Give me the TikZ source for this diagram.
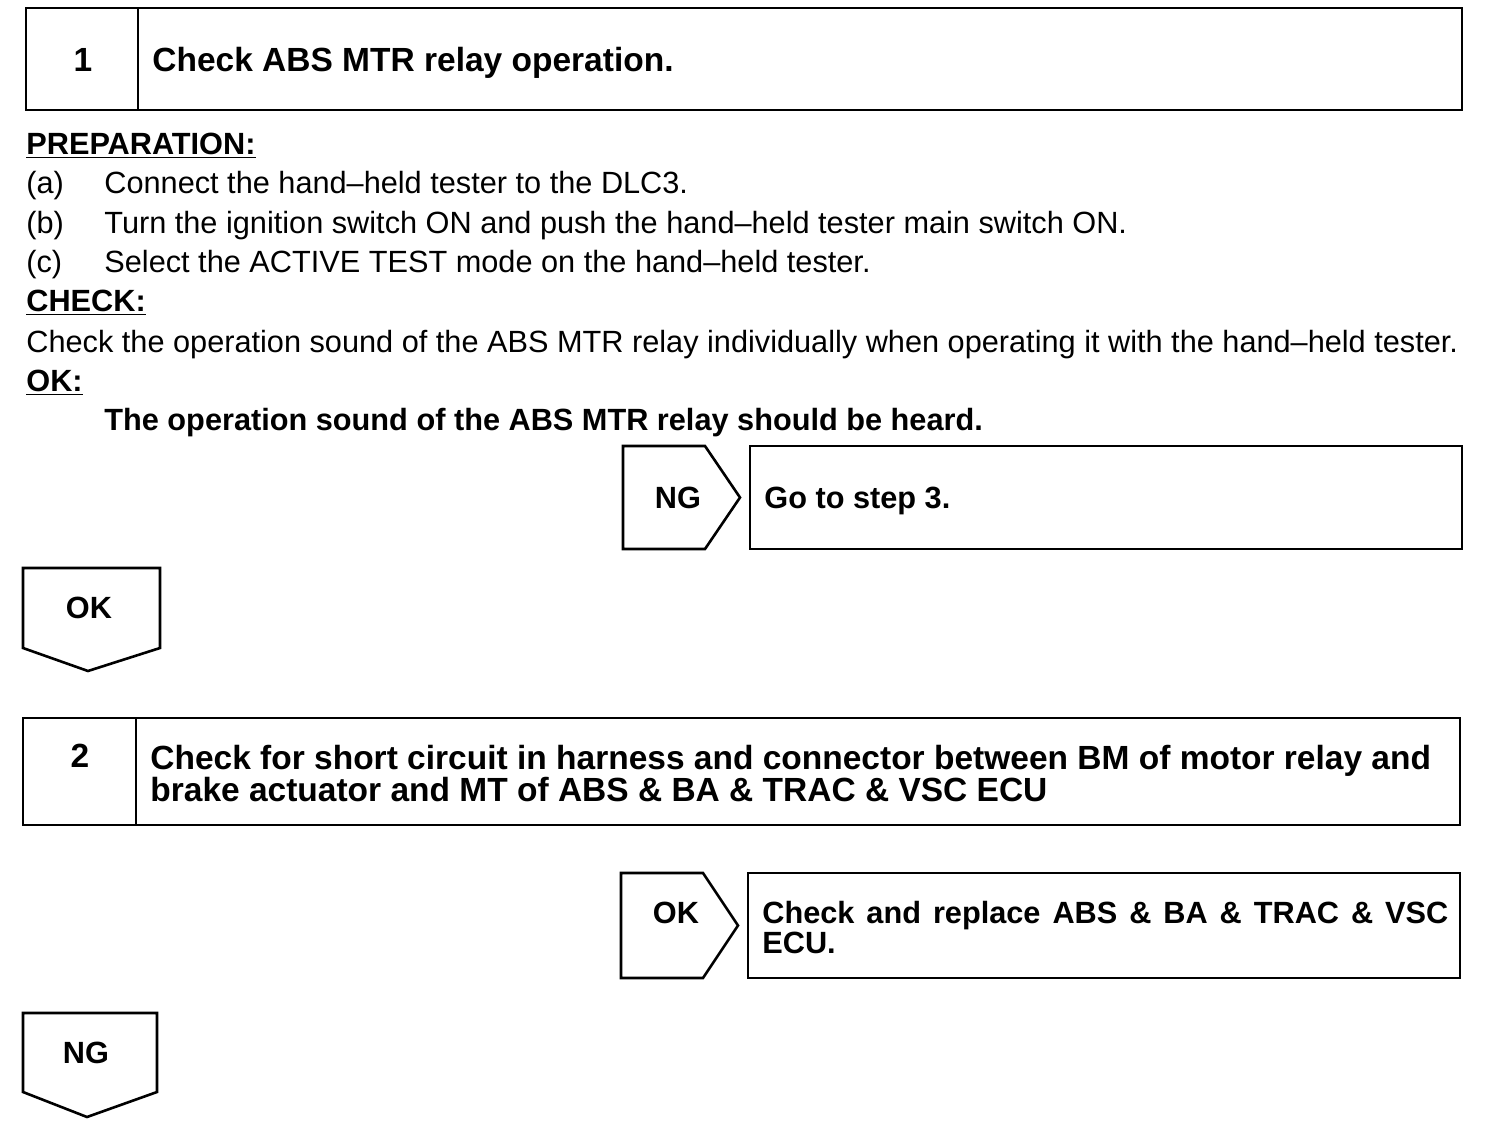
\documentclass[tikz,border=0pt]{standalone}
\usepackage{fontspec}
\setmainfont{Liberation Sans}
\usetikzlibrary{positioning}
\newcommand{\ulhead}[1]{\underline{#1}}

\begin{document}
\begin{tikzpicture}[x=0.5pt, y=-0.5pt]
\tikzset{
  frame/.style={draw=black,line width=1.3pt,line join=miter},
  body/.style={anchor=base west,inner sep=0pt,font=\fontsize{15.35}{18}\selectfont},
  bold/.style={anchor=base west,inner sep=0pt,font=\fontsize{15.35}{18}\selectfont\bfseries},
  head/.style={anchor=base west,inner sep=0pt,font=\fontsize{16.75}{20}\selectfont\bfseries},
  num/.style={anchor=base,inner sep=0pt,font=\fontsize{16.75}{20}\selectfont\bfseries},
  tag/.style={anchor=base,inner sep=0pt,font=\fontsize{15.35}{18}\selectfont\bfseries}
}
\useasboundingbox (0,0) rectangle (1504,1140);
% ---- step 1
\draw[frame] (26,8) rectangle (1462,110);
\draw[frame] (138,8) -- (138,110);
\node[num]  (n1)  at (83,71)  {1};
\node[head] (t1)  at (152,71) {Check ABS MTR relay operation.};
\node[bold] (prep) at (26,154) {\ulhead{PREPARATION:}};
\node[body] (pa)  at (26,193) {(a)};
\node[body] (pat) at (104,193) {Connect the hand--held tester to the DLC3.};
\node[body] (pb)  at (26,233) {(b)};
\node[body] (pbt) at (104,233) {Turn the ignition switch ON and push the hand--held tester main switch ON.};
\node[body] (pc)  at (26,272) {(c)};
\node[body] (pct) at (104,272) {Select the ACTIVE TEST mode on the hand--held tester.};
\node[bold] (chk) at (26,311) {\ulhead{CHECK:}};
\node[body] (chkt) at (26,352) {Check the operation sound of the ABS MTR relay individually when operating it with the hand--held tester.};
\node[bold] (ok)  at (26,391) {\ulhead{OK:}};
\node[bold] (okt) at (104,430) {The operation sound of the ABS MTR relay should be heard.};
% ---- NG branch of step 1
\draw[frame] (623,446) -- (705,446) -- (740,497.5) -- (705,549) -- (623,549) -- cycle;
\node[tag]  (ng1) at (678,508) {NG};
\draw[frame] (750,446) rectangle (1462,549);
\node[bold] (go3) at (764,508) {Go to step 3.};
% ---- OK down
\draw[frame] (23,568) -- (160,568) -- (160,648) -- (88,671) -- (23,648) -- cycle;
\node[tag]  (ok1) at (89,618) {OK};
% ---- step 2
\draw[frame] (23,718) rectangle (1460,825);
\draw[frame] (136,718) -- (136,825);
\node[num]  (n2)  at (80,767) {2};
\node[head] (t2a) at (150,769) {Check for short circuit in harness and connector between BM of motor relay and};
\node[head] (t2b) at (150,801) {brake actuator and MT of ABS \& BA \& TRAC \& VSC ECU};
% ---- OK branch of step 2
\draw[frame] (621,873) -- (703,873) -- (738,925.5) -- (703,978) -- (621,978) -- cycle;
\node[tag]  (ok2) at (676,923) {OK};
\draw[frame] (748,873) rectangle (1460,978);
\node[bold] (ecua) at (762,923) {\makebox[343pt][s]{Check and replace ABS \& BA \& TRAC \& VSC}};
\node[bold] (ecub) at (762,953) {ECU.};
% ---- NG down
\draw[frame] (23,1013) -- (157,1013) -- (157,1092) -- (87,1117) -- (23,1092) -- cycle;
\node[tag]  (ng2) at (86,1063) {NG};
\end{tikzpicture}
\end{document}
